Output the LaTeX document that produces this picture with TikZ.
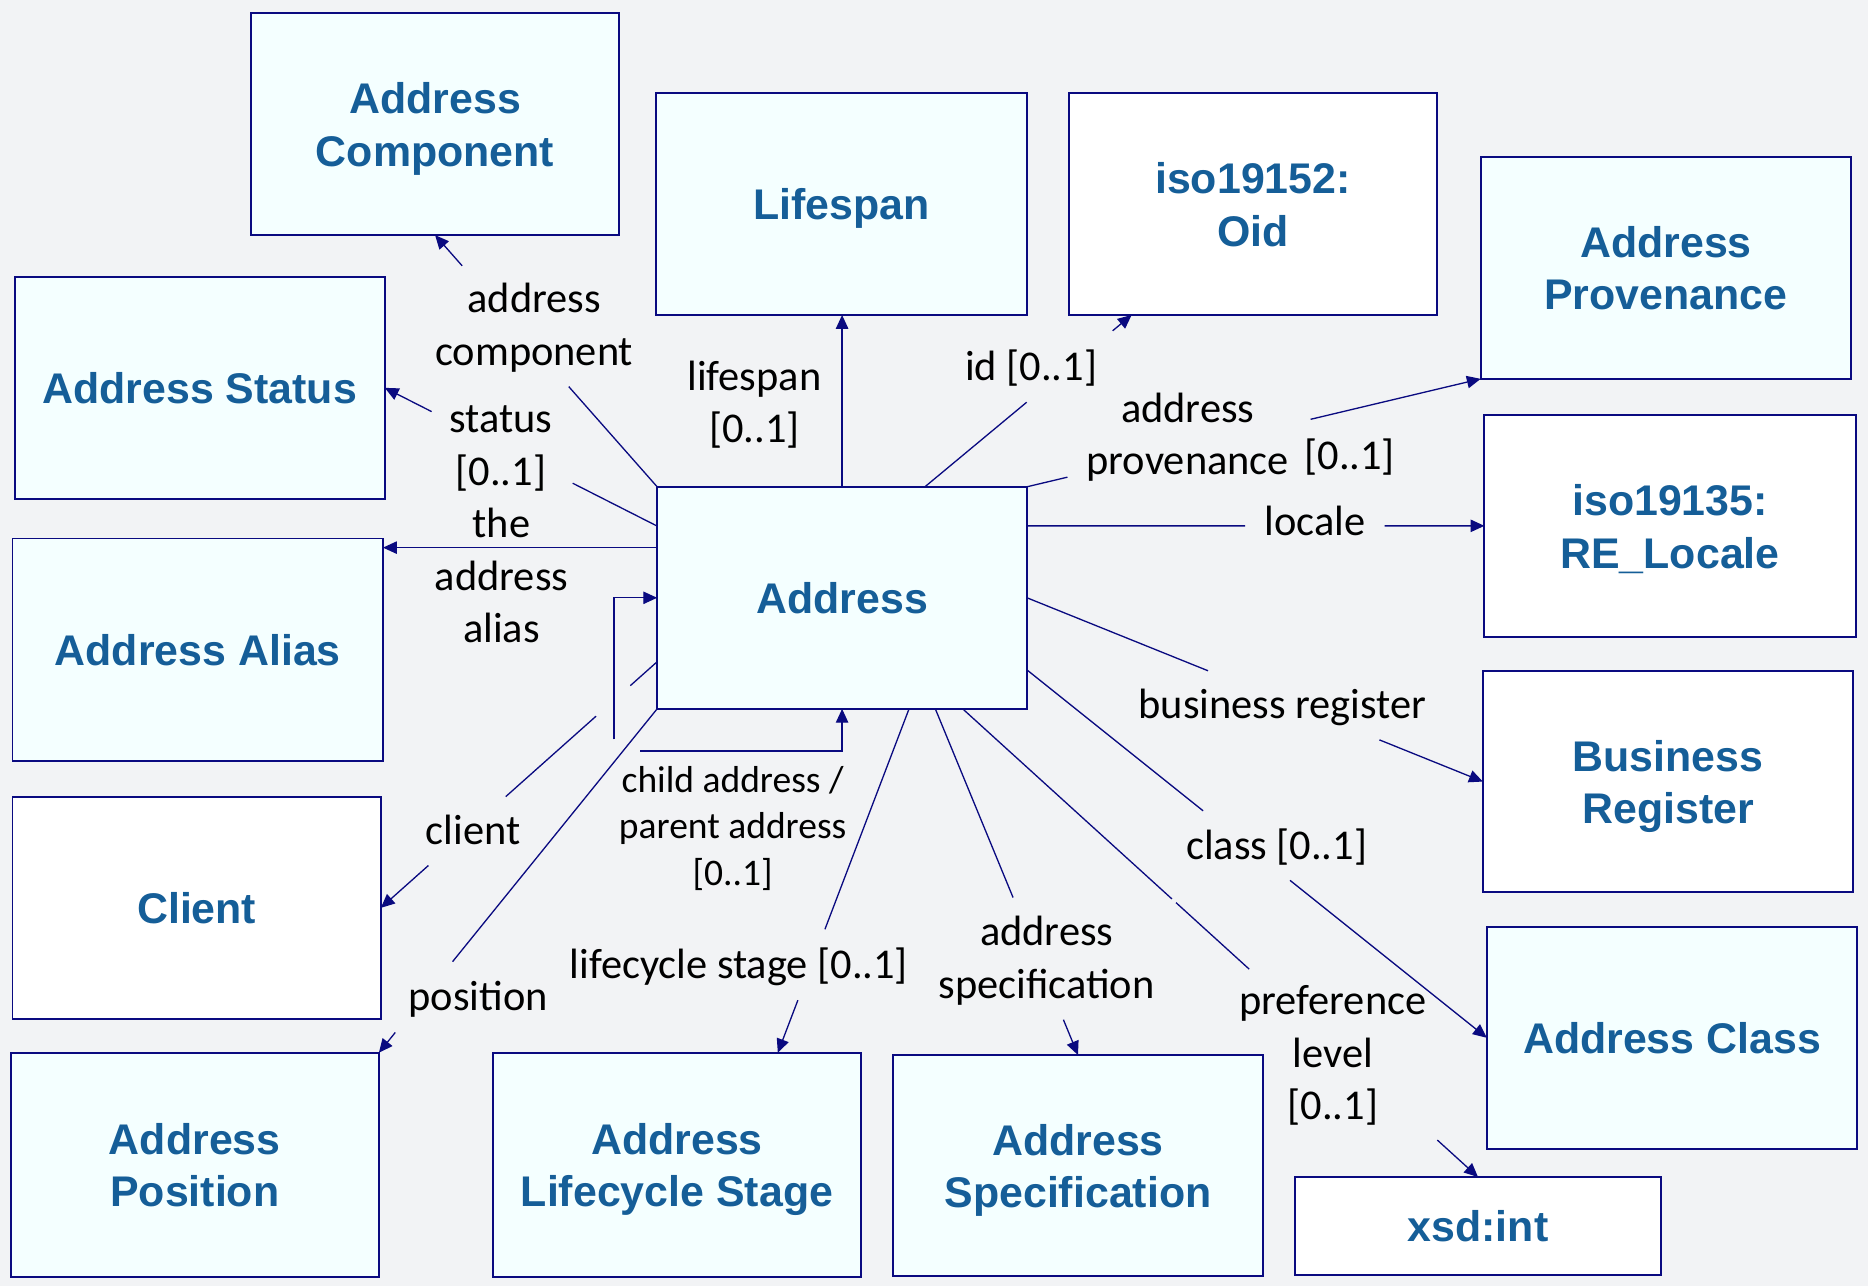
\documentclass[tikz,border=0pt]{standalone}
\usepackage{fontspec}
\newfontfamily\lblfont{Carlito}
\newfontfamily\boxfont{Liberation Sans}
\usetikzlibrary{arrows.meta,calc}
\definecolor{bgc}{HTML}{F2F3F5}
\definecolor{navyc}{RGB}{10,10,128}
\definecolor{boxfill}{RGB}{244,255,255}
\definecolor{boxtext}{RGB}{21,94,152}
\newcommand{\bxstrut}{\rule[-4.3pt]{0pt}{22pt}}
\begin{document}
\begin{tikzpicture}[x=0.5pt,y=-0.5pt,
  box/.style={draw=navyc, line width=0.8pt, fill=boxfill, text=boxtext, font=\boxfont\bfseries\fontsize{18pt}{22pt}\selectfont, align=center, inner sep=0pt, outer sep=0pt},
  wbox/.style={box, fill=white},
  lbl/.style={font=\lblfont\fontsize{17.8pt}{22pt}\selectfont, align=center, inner sep=0pt, text=black},
  slbl/.style={lbl, font=\lblfont\fontsize{15.75pt}{19.5pt}\selectfont},
  conn/.style={draw=navyc, line width=0.55pt},
  arr/.style={-{Triangle[length=5.8pt,width=5.2pt]}}
]
\fill[bgc] (0,0) rectangle (1568,1079.5);
\useasboundingbox (0,0) rectangle (1568,1079.5);

% boxes
\node[box, minimum width=154.6pt, minimum height=93.35pt] (comp) at (365.2,104) {\bxstrut Address\\\bxstrut Component};
\node[box, minimum width=155.4pt, minimum height=93.3pt] (life) at (706.4,171.1) {\bxstrut Lifespan};
\node[wbox, minimum width=154.7pt, minimum height=93.3pt] (oid) at (1051.7,171.1) {\bxstrut iso19152:\\\bxstrut Oid};
\node[box, minimum width=155.45pt, minimum height=93.25pt] (prov) at (1398.35,224.75) {\bxstrut Address\\\bxstrut Provenance};
\node[box, minimum width=155.3pt, minimum height=93.35pt] (stat) at (167.7,325.55) {\bxstrut Address Status};
\node[wbox, minimum width=155.8pt, minimum height=93pt] (loc) at (1401.8,441.4) {\bxstrut iso19135:\\\bxstrut RE\_Locale};
\node[box, minimum width=155.5pt, minimum height=93.4pt] (alias) at (166,545.4) {\bxstrut Address Alias};
\node[box, minimum width=155.25pt, minimum height=93.2pt] (addr) at (706.85,501.8) {\bxstrut Address};
\node[wbox, minimum width=155.5pt, minimum height=92.85pt] (breg) at (1400.2,656.05) {\bxstrut Business\\\bxstrut Register};
\node[wbox, minimum width=154.6pt, minimum height=93.25pt] (client) at (165.1,762.05) {\bxstrut Client};
\node[box, minimum width=155.5pt, minimum height=93.1pt] (cls) at (1403.5,871.1) {\bxstrut Address Class};
\node[wbox, minimum width=153.65pt, minimum height=40.95pt] (xsd) at (1240.65,1028.95) {\bxstrut xsd:int};
\node[box, minimum width=155.35pt, minimum height=92.7pt] (spec) at (904.85,978.3) {\bxstrut Address\\\bxstrut Specification};
\node[box, minimum width=154.5pt, minimum height=93.95pt] (pos) at (163.5,977.65) {\bxstrut Address\\\bxstrut Position};
\node[box, minimum width=154.45pt, minimum height=93.95pt] (lc) at (568.25,977.65) {\bxstrut Address\\\bxstrut Lifecycle Stage};

% labels
\node[lbl] (lcomp) at (448.4,275.9) {\strut address\\\strut component};
\node[lbl] (llife) at (633.2,341) {\strut lifespan\\\strut [0..1]};
\node[lbl] (lid) at (865.5,311) {\strut id [0..1]};
\node[lbl] (lprov) at (997,367.6) {\strut address\\\strut provenance};
\node[lbl] (lprovm) at (1133,385.7) {\strut [0..1]};
\node[lbl] (lloc) at (1103.7,440.9) {\strut locale};
\node[lbl] (lstat) at (420.4,376.6) {\strut status\\\strut [0..1]};
\node[lbl] (lalias) at (421,486.6) {\strut the\\\strut address\\\strut alias};
\node[lbl] (lbreg) at (1076.5,594.7) {\strut business register};
\node[lbl] (lclient) at (397,699.7) {\strut client};
\node[slbl] (lchild) at (615,696.2) {\strut child address /\\\strut parent address\\\strut [0..1]};
\node[lbl] (lcls) at (1071.6,712.6) {\strut class [0..1]};
\node[lbl] (lpos) at (401.5,839) {\strut position};
\node[lbl] (llc) at (620.2,812.4) {\strut lifecycle stage [0..1]};
\node[lbl] (lspec) at (878.6,807) {\strut address\\\strut specification};
\node[lbl] (lpref) at (1118.8,887) {\strut preference\\\strut level\\\strut [0..1]};

% connectors
\draw[conn,arr] (addr.north west) -- ($(addr.north west)!0.398!(comp.south)$) ($(addr.north west)!0.878!(comp.south)$) -- (comp.south);

\draw[conn,arr] (addr.north) -- (addr.north |- life.south);

\coordinate (aO) at ($(addr.north west)!0.724!(addr.north east)$);
\coordinate (bO) at ($(oid.south west)!0.171!(oid.south east)$);
\draw[conn,arr] (aO) -- ($(aO)!0.492!(bO)$) ($(aO)!0.908!(bO)$) -- (bO);

\draw[conn,arr] (addr.north east) -- ($(addr.north east)!0.089!(prov.south west)$) ($(addr.north east)!0.625!(prov.south west)$) -- (prov.south west);

\coordinate (aL) at (addr.east |- loc.west);
\draw[conn,arr] (aL) -- ($(aL)!0.477!(loc.west)$) ($(aL)!0.782!(loc.west)$) -- (loc.west);

\draw[conn,arr] (addr.east) -- ($(addr.east)!0.397!(breg.west)$) ($(addr.east)!0.773!(breg.west)$) -- (breg.west);

\coordinate (aC) at ($(addr.north east)!0.825!(addr.south east)$);
\draw[conn,arr] (aC) -- ($(aC)!0.383!(cls.west)$) ($(aC)!0.572!(cls.west)$) -- (cls.west);

\coordinate (aX) at ($(addr.south west)!0.826!(addr.south east)$);
\draw[conn,arr] (aX) -- ($(aX)!0.406!(xsd.north)$) ($(aX)!0.414!(xsd.north)$) -- ($(aX)!0.556!(xsd.north)$) ($(aX)!0.921!(xsd.north)$) -- (xsd.north);

\coordinate (aSp) at ($(addr.south west)!0.752!(addr.south east)$);
\draw[conn,arr] (aSp) -- ($(aSp)!0.545!(spec.north)$) ($(aSp)!0.898!(spec.north)$) -- (spec.north);

\coordinate (aLc) at ($(addr.south west)!0.681!(addr.south east)$);
\coordinate (bLc) at ($(lc.north west)!0.774!(lc.north east)$);
\draw[conn,arr] (aLc) -- ($(aLc)!0.641!(bLc)$) ($(aLc)!0.847!(bLc)$) -- (bLc);

\draw[conn,arr] (addr.south west) -- ($(addr.south west)!0.735!(pos.north east)$) ($(addr.south west)!0.941!(pos.north east)$) -- (pos.north east);

\coordinate (aCl) at ($(addr.north west)!0.788!(addr.south west)$);
\draw[conn,arr] (aCl) -- ($(aCl)!0.097!(client.east)$) ($(aCl)!0.221!(client.east)$) -- ($(aCl)!0.548!(client.east)$) ($(aCl)!0.828!(client.east)$) -- (client.east);

% self association (child / parent address)
\coordinate (lp1) at (537.5,630.4);
\coordinate (lp2) at (515.3,620.6);
\draw[conn,arr] (lp1) -| (addr.south);
\draw[conn,arr] (lp2) |- (addr.west);

\coordinate (aA) at ($(addr.north west)!0.274!(addr.south west)$);
\draw[conn,arr] (aA) -- (alias.east |- aA);

\coordinate (aS) at ($(addr.north west)!0.177!(addr.south west)$);
\draw[conn,arr] (aS) -- ($(aS)!0.31!(stat.east)$) ($(aS)!0.828!(stat.east)$) -- (stat.east);
\end{tikzpicture}
\end{document}
